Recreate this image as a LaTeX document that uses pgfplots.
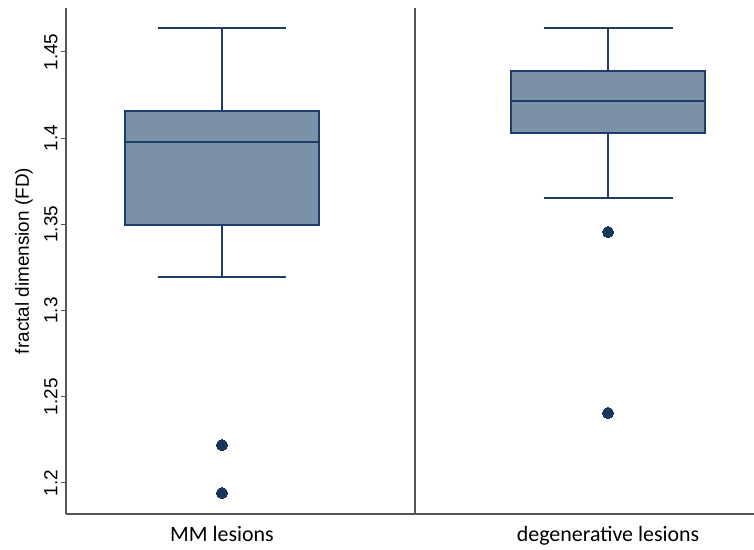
\documentclass[border=0pt]{standalone}
\usepackage{fontspec}
\setmainfont{Liberation Sans}
\newfontfamily\carlito{Carlito}
\usepackage{pgfplots}
\pgfplotsset{compat=1.18}
\usepgfplotslibrary{statistics}
\definecolor{boxfill}{HTML}{7B90A9}
\definecolor{boxline}{HTML}{1E3D66}
\definecolor{dotcol}{HTML}{163660}
\definecolor{axcol}{HTML}{555555}
\begin{document}
\begin{tikzpicture}
\begin{axis}[
  at={(66bp,36bp)}, anchor=south west,
  scale only axis, width=688bp, height=506bp,
  xmin=0.5959, xmax=2.378, ymin=1.182, ymax=1.4755,
  axis x line=bottom, axis y line=left,
  axis line style={axcol, line width=1.2bp, -},
  xtick={1,2}, xticklabels={MM lesions, degenerative lesions},
  x tick label style={font=\carlito\fontsize{22}{26}\selectfont, yshift=-4bp},
  xtick style={draw=none},
  ytick={1.2,1.25,1.3,1.35,1.4,1.45},
  yticklabels={1.2,1.25,1.3,1.35,1.4,1.45},
  y tick label style={rotate=90, anchor=south, font=\fontsize{19}{21}\selectfont},
  ytick style={axcol, line width=1bp},
  tick align=outside, major tick length=5bp,
  every axis y label/.style={at={(axis description cs:-0.0610,0.5)}, rotate=90, anchor=center, font=\fontsize{19}{21}\selectfont},
  ylabel={fractal dimension (FD)},
  boxplot/draw direction=y,
  clip=false,
]
\addplot[axcol, line width=1.2bp] coordinates {(1.5,1.182) (1.5,1.4755)};
\addplot[boxplot prepared={draw position=1, lower whisker=1.3195, lower quartile=1.3497, median=1.3978, upper quartile=1.4158, upper whisker=1.4639, box extend=0.502, whisker extend=0.334},
  draw=boxline, fill=boxfill, line width=1.6bp, solid,
  mark=*, mark size=5.5bp, mark options={fill=dotcol, draw=dotcol, line width=0pt}]
  table[row sep=\\, y index=0] {1.222\\ 1.1942\\};
\addplot[boxplot prepared={draw position=2, lower whisker=1.3653, lower quartile=1.4030, median=1.4216, upper quartile=1.4390, upper whisker=1.4639, box extend=0.502, whisker extend=0.334},
  draw=boxline, fill=boxfill, line width=1.6bp, solid,
  mark=*, mark size=5.5bp, mark options={fill=dotcol, draw=dotcol, line width=0pt}]
  table[row sep=\\, y index=0] {1.3456\\ 1.2406\\};
\end{axis}
\pgfresetboundingbox
\path (0,0) rectangle (754bp,550bp);
\end{tikzpicture}
\end{document}
